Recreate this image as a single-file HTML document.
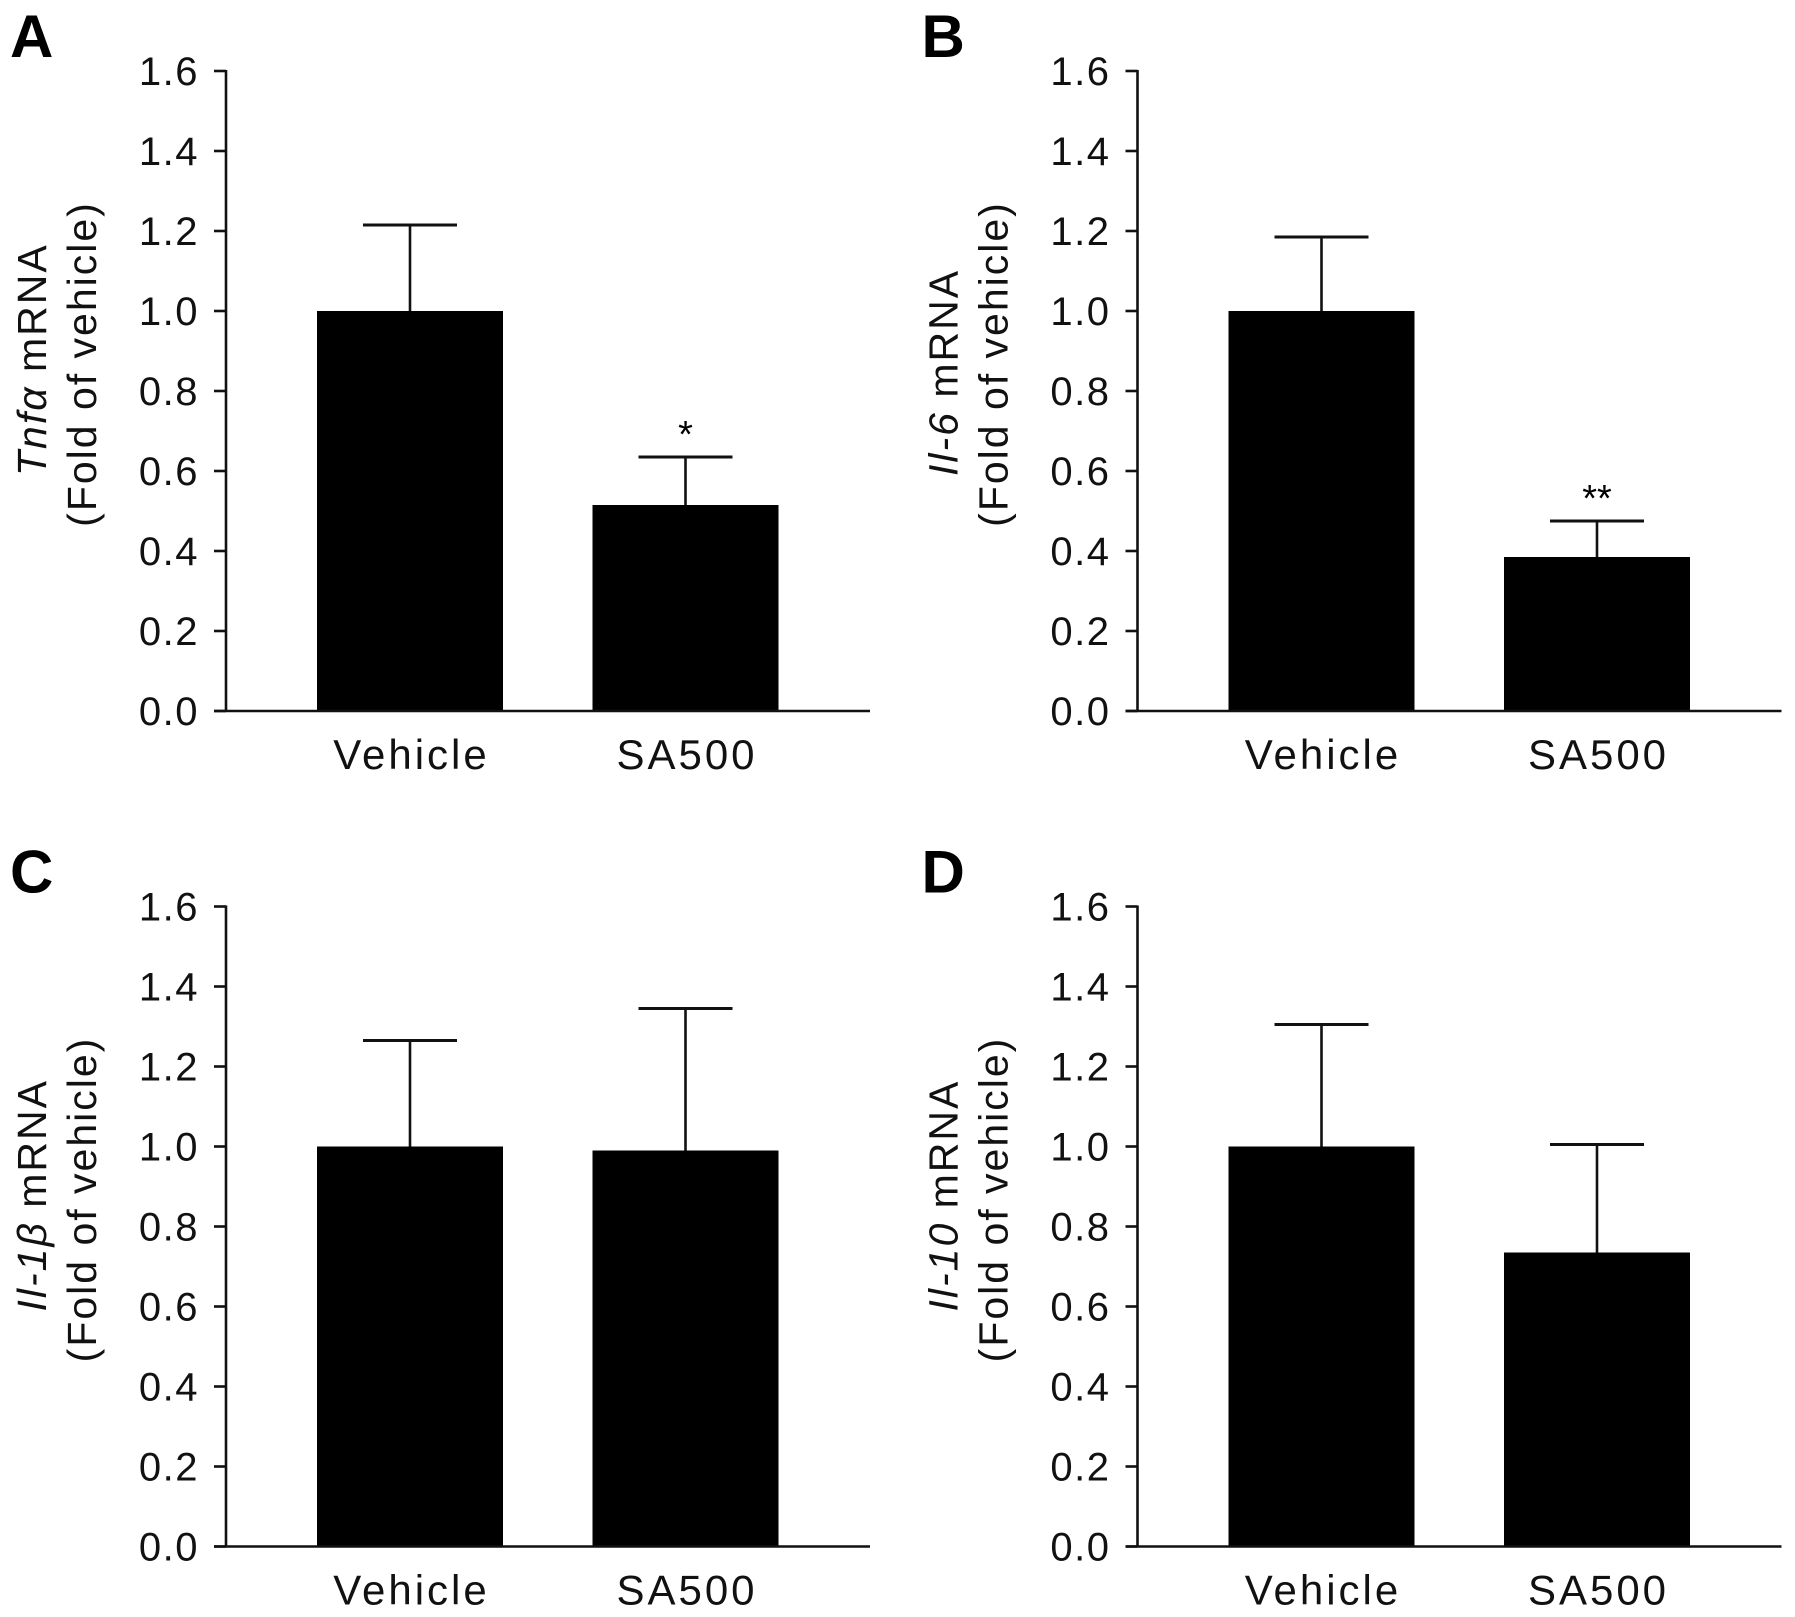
<!DOCTYPE html>
<html><head><meta charset="utf-8"><style>
html,body{margin:0;padding:0;background:#fff;}
svg{display:block;font-family:"Liberation Sans",Arial,sans-serif;}
</style></head><body>
<svg id="fig" width="1795" height="1617" viewBox="0 0 1795 1617"></svg>
<script>
const categories = ["Vehicle", "SA500"];
const yTicks = [0.0, 0.2, 0.4, 0.6, 0.8, 1.0, 1.2, 1.4, 1.6];
const yTickLabels = ["0.0","0.2","0.4","0.6","0.8","1.0","1.2","1.4","1.6"];
const panelLetters = ["A","B","C","D"];
const panelGenes = ["Tnf\u03B1","Il-6","Il-1\u03B2","Il-10"];
const meansA = [1.0, 0.515];
const errTopA = [1.215, 0.635];
const meansB = [1.0, 0.385];
const errTopB = [1.185, 0.475];
const meansC = [1.0, 0.99];
const errTopC = [1.265, 1.345];
const meansD = [1.0, 0.735];
const errTopD = [1.305, 1.005];
const sigLabels = [["","*"],["","**"],["",""],["",""]];

const NS="http://www.w3.org/2000/svg";
const svg=document.getElementById('fig');
function mk(tag,attrs,parent){const e=document.createElementNS(NS,tag);for(const k in attrs)e.setAttribute(k,attrs[k]);(parent||svg).appendChild(e);return e;}

const means=[meansA,meansB,meansC,meansD];
const errs=[errTopA,errTopB,errTopC,errTopD];
const offsets=[[0,0],[911.5,0],[0,835.5],[911.5,835.5]];

for(let p=0;p<4;p++){
  const ox=offsets[p][0], oy=offsets[p][1];
  const g=mk('g',{});
  
  
  const axX=226+ox, y0=711+oy, yTop=71+oy;
  const yScale=v=>y0-(v/1.6)*(y0-yTop);
  const barLeft=[317+ox,592.5+ox], barW=186;
  const xCenter=i=>barLeft[i]+barW/2;

  const L=mk('text',{x:10+ox,y:57+oy,'font-size':60,'font-weight':'bold'},g);
  L.textContent=panelLetters[p];
  
  

  for(let i=0;i<2;i++){
    const top=yScale(means[p][i]);
    const r=mk('rect',{x:barLeft[i],y:top,width:barW,height:y0-top,fill:'#000'},g);
    
    
    const et=yScale(errs[p][i]);
    const e1=mk('line',{x1:xCenter(i),x2:xCenter(i),y1:top,y2:et,stroke:'#111','stroke-width':2.6},g);
    
    
    const e2=mk('line',{x1:xCenter(i)-47,x2:xCenter(i)+47,y1:et,y2:et,stroke:'#111','stroke-width':3},g);
    
    
    if(sigLabels[p][i]){
      const s=mk('text',{x:xCenter(i),y:et-10,'font-size':38,'text-anchor':'middle'},g);
      s.textContent=sigLabels[p][i];
      
      
    }
    const c=mk('text',{x:xCenter(i)+1.5,y:y0+58,'font-size':42,'letter-spacing':3,'text-anchor':'middle',fill:'#111'},g);
    c.textContent=categories[i];
    
    
  }
  const ya=mk('line',{x1:axX,x2:axX,y1:yTop-1,y2:y0,stroke:'#111','stroke-width':2.6},g);
  
  
  const xa=mk('line',{x1:axX-12,x2:870+ox,y1:y0,y2:y0,stroke:'#111','stroke-width':2.6},g);
  
  
  for(let t=0;t<yTicks.length;t++){
    const y=yScale(yTicks[t]);
    const tk=mk('line',{x1:axX-12,x2:axX,y1:y,y2:y,stroke:'#111','stroke-width':2.6},g);
    
    
    const tl=mk('text',{x:axX-27,y:y+14,'font-size':40,'letter-spacing':1.5,'text-anchor':'end',fill:'#111'},g);
    tl.textContent=yTickLabels[t];
    
    
  }
  const t1=mk('text',{transform:`translate(${axX-180},${yTop+405}) rotate(-90)`,'font-size':41,'letter-spacing':2,'text-anchor':'start',fill:'#111'},g);
  
  
  const ts=mk('tspan',{'font-style':'italic'},t1); ts.textContent=panelGenes[p];
  const ts2=mk('tspan',{},t1); ts2.textContent=' mRNA';
  const t2=mk('text',{transform:`translate(${axX-130},${yTop+293}) rotate(-90)`,'font-size':41,'letter-spacing':2,'text-anchor':'middle',fill:'#111'},g);
  t2.textContent='(Fold of vehicle)';
  
  
}
</script>
</body></html>
